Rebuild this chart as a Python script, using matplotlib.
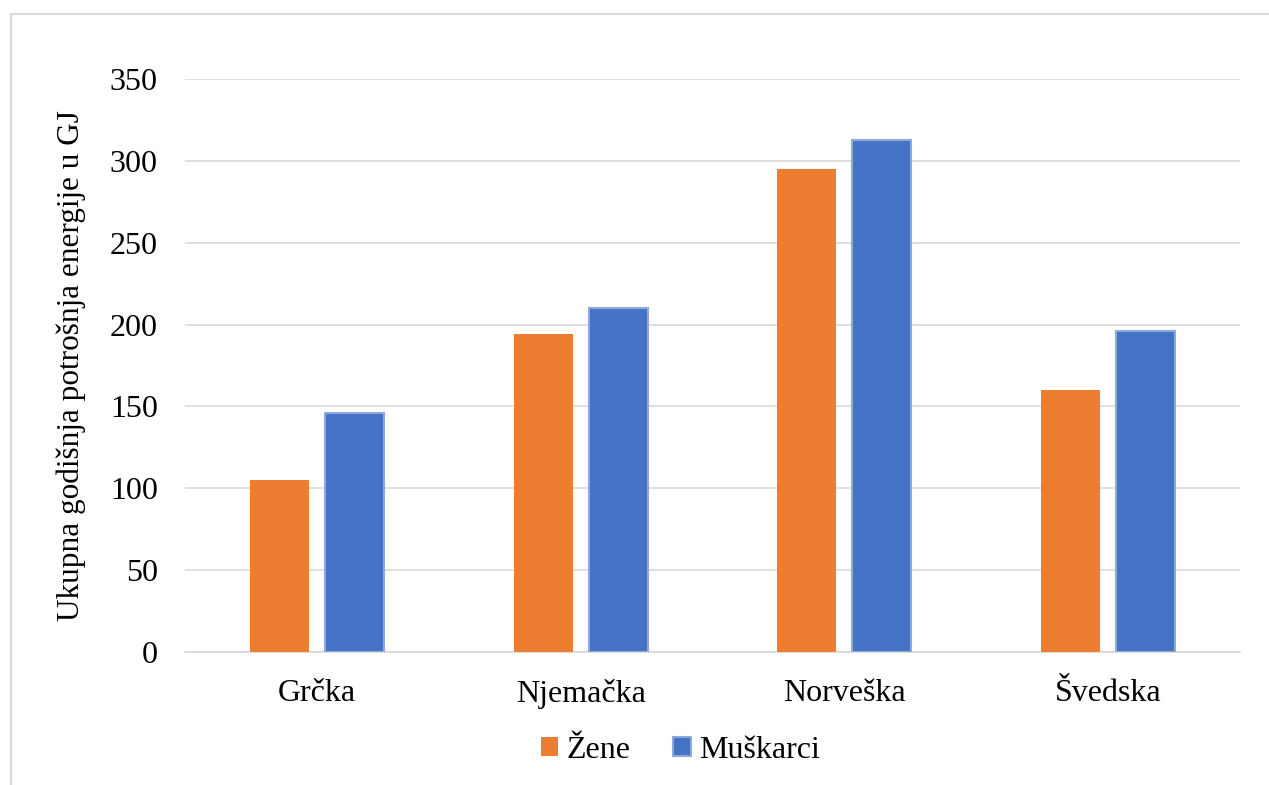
import matplotlib.pyplot as plt
import numpy as np
from matplotlib.patches import Rectangle

# data
countries = ['Grčka', 'Njemačka', 'Norveška', 'Švedska']
zene = [105, 194, 295, 160]
muskarci = [146, 210, 313, 196]
yticks = [0, 50, 100, 150, 200, 250, 300, 350]

orange = '#ED7D31'
blue = '#4472C4'

plt.rcParams['font.family'] = ['Liberation Serif', 'DejaVu Serif']

fig = plt.figure(figsize=(12.69, 7.85), dpi=100)
ax = fig.add_axes([185 / 1269, 1 - 652 / 785, 1055 / 1269, 573 / 785])

x = np.arange(len(countries))
w = 0.224
off = 0.142
ax.bar(x - off, zene, w, color=orange, label='Žene', zorder=3)
ax.bar(x + off, muskarci, w, color=blue, edgecolor='#8EA9DB', linewidth=1.5,
       label='Muškarci', zorder=3)

ax.set_xlim(-0.5, len(countries) - 0.5)
ax.set_ylim(0, 350)
ax.set_yticks(yticks)
ax.set_xticks(x)
ax.set_xticklabels(countries)
ax.tick_params(axis='both', length=0, labelsize=23, colors='black')
ax.tick_params(axis='x', pad=19.5)
ax.tick_params(axis='y', pad=19.5)
ax.yaxis.grid(True, color='#D9D9D9', linewidth=1.2, zorder=0)
for s in ['top', 'right', 'left']:
    ax.spines[s].set_visible(False)
ax.spines['bottom'].set_color('#D9D9D9')
ax.spines['bottom'].set_linewidth(1.2)

ax.set_ylabel('Ukupna godišnja potrošnja energije u GJ', fontsize=22.5, labelpad=17)

fig.legend(loc='center', bbox_to_anchor=(0.536, 1 - 750 / 785), ncol=2, frameon=False,
           fontsize=23, handlelength=0.55, handleheight=0.55, handletextpad=0.25,
           columnspacing=1.35)

# outer chart border (Excel chart area)
fig.patches.append(Rectangle((11 / 1269, -0.05), 1.2, 1 - 14 / 785 + 0.05,
                             transform=fig.transFigure, fill=False,
                             edgecolor='#D9D9D9', linewidth=1.5, clip_on=False))

plt.savefig('out.png', dpi=100)
